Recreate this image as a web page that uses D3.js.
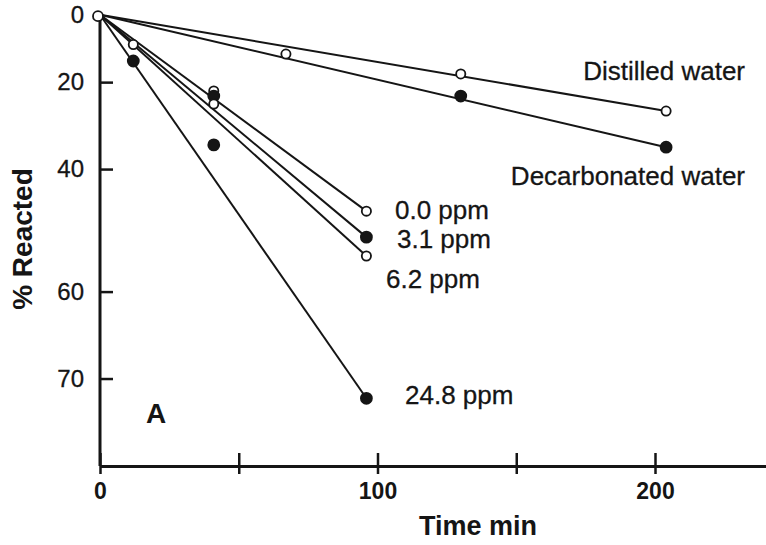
<!DOCTYPE html>
<html>
<head>
<meta charset="utf-8">
<script src="https://cdn.jsdelivr.net/npm/d3@7"></script>
<style>
  body { margin: 0; background: #fff; }
  svg { display: block; }
  text { font-family: "Liberation Sans", Arial, sans-serif; fill: #151515; }
</style>
</head>
<body>
<div id="chart"></div>
<script>
// data (time in min, % reacted)
var seriesNames = ["Distilled water", "Decarbonated water", "0.0 ppm", "3.1 ppm", "6.2 ppm", "24.8 ppm"];
var seriesTimes = [[67, 130, 204], [130, 204], [12, 41, 96], [41, 96], [41, 96], [12, 41, 96]];
var seriesValues = [[12.2, 17.8, 27.3], [23.6, 35.5], [9.4, 22.3, 47.8], [23.6, 52.1], [25.6, 55.0], [14.2, 35.0, 71.9]];
var seriesFilled = [false, true, false, true, false, true];
var xTicks = [0, 50, 100, 150, 200];
var xTickLabels = ["0", "", "100", "", "200"];
var yTicks = [0, 20, 40, 60, 70];

var width = 766, height = 545;
var ink = "#151515";

var svg = d3.select("#chart").append("svg")
    .attr("width", width)
    .attr("height", height);

var x = d3.scaleLinear().domain([0, 240]).range([100, 766]);
// first-order plot: % reacted on a log scale of the remaining fraction
var y = d3.scaleLog().domain([100, 22.46]).range([14.7, 466]);
function yr(p) { return y(100 - p); }

// x axis
var gx = svg.append("g")
    .attr("transform", "translate(0," + y(22.46) + ")")
    .call(d3.axisBottom(x)
        .tickValues(xTicks)
        .tickFormat(function(d, i) { return xTickLabels[i]; })
        .tickSizeInner(0).tickSizeOuter(0).tickPadding(17));
gx.select(".domain").attr("stroke", ink).attr("stroke-width", 3);
gx.selectAll(".tick line").attr("y1", -13).attr("y2", 8)
    .attr("stroke", ink).attr("stroke-width", 2.5);
gx.selectAll(".tick text")
    .attr("font-size", "23px").attr("font-weight", "700")
    .style("font-family", "'Liberation Sans', Arial, sans-serif").attr("fill", ink);

// y axis
var gy = svg.append("g")
    .attr("transform", "translate(" + x(0) + ",0)")
    .call(d3.axisLeft(y)
        .tickValues(yTicks.map(function(v) { return 100 - v; }))
        .tickFormat(function(d) { return Math.round(100 - d); })
        .tickSizeInner(-13).tickSizeOuter(0).tickPadding(16));
gy.select(".domain").attr("stroke", ink).attr("stroke-width", 3)
    .attr("d", "M0," + (yr(0) + 4) + "V" + y(22.46));
gy.selectAll(".tick line").attr("stroke", ink).attr("stroke-width", 2.5)
    .filter(function(d) { return d === 100; }).remove();
gy.selectAll(".tick text")
    .attr("font-size", "24px")
    .attr("stroke", ink).attr("stroke-width", 0.3)
    .style("font-family", "'Liberation Sans', Arial, sans-serif").attr("fill", ink);

// axis titles
svg.append("text")
    .attr("transform", "translate(32,239) rotate(-90)")
    .attr("text-anchor", "middle")
    .attr("font-size", "28px").attr("font-weight", "700")
    .text("% Reacted");
svg.append("text")
    .attr("x", 478).attr("y", 535)
    .attr("text-anchor", "middle")
    .attr("font-size", "27px").attr("font-weight", "700")
    .text("Time min");
svg.append("text")
    .attr("x", 156).attr("y", 423)
    .attr("text-anchor", "middle")
    .attr("font-size", "28px").attr("font-weight", "700")
    .text("A");

// fitted lines from the origin to the last point of each series
seriesNames.forEach(function(name, i) {
    var n = seriesTimes[i].length - 1;
    svg.append("line")
        .attr("x1", x(0)).attr("y1", yr(0))
        .attr("x2", x(seriesTimes[i][n])).attr("y2", yr(seriesValues[i][n]))
        .attr("stroke", ink).attr("stroke-width", 2);
});

// markers
seriesNames.forEach(function(name, i) {
    var pts = seriesTimes[i].map(function(t, j) { return {t: t, p: seriesValues[i][j]}; });
    svg.selectAll(null)
        .data(pts)
        .enter().append("circle")
        .attr("cx", function(d) { return x(d.t); })
        .attr("cy", function(d) { return yr(d.p); })
        .attr("r", seriesFilled[i] ? 5.5 : 4.6)
        .attr("fill", seriesFilled[i] ? ink : "#fff")
        .attr("stroke", ink)
        .attr("stroke-width", 1.8);
});
svg.append("circle")
    .attr("cx", x(0) - 2).attr("cy", yr(0) + 1.5).attr("r", 5)
    .attr("fill", "#fff").attr("stroke", ink).attr("stroke-width", 1.8);

// series labels
var labelPos = [
    {x: 745, y: 80, anchor: "end"},
    {x: 745, y: 185, anchor: "end"},
    {x: 395, y: 219, anchor: "start"},
    {x: 397, y: 248, anchor: "start"},
    {x: 386, y: 288, anchor: "start"},
    {x: 405, y: 404, anchor: "start"}
];
svg.selectAll(".series-label")
    .data(seriesNames)
    .enter().append("text")
    .attr("class", "series-label")
    .attr("x", function(d, i) { return labelPos[i].x; })
    .attr("y", function(d, i) { return labelPos[i].y; })
    .attr("text-anchor", function(d, i) { return labelPos[i].anchor; })
    .attr("font-size", "26px")
    .attr("stroke", ink).attr("stroke-width", 0.3)
    .text(function(d) { return d; });
</script>
</body>
</html>
